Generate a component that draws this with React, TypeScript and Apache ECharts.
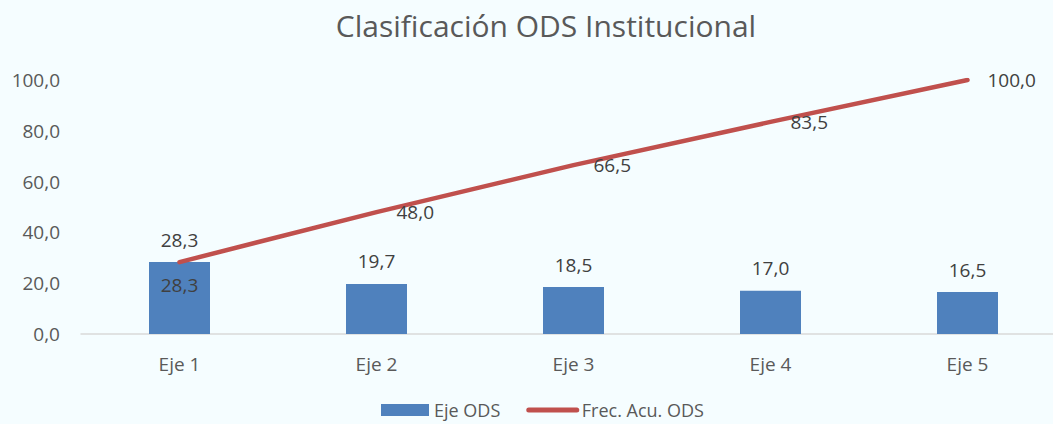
import React, { useEffect, useRef } from "react";
import * as echarts from "echarts";

const categories = ["Eje 1", "Eje 2", "Eje 3", "Eje 4", "Eje 5"];
const barValues = [28.3, 19.7, 18.5, 17.0, 16.5];
const cumValues = [28.3, 48.0, 66.5, 83.5, 100.0];
const titleText = "Clasificación ODS Institucional";
const barName = "Eje ODS";
const lineName = "Frec. Acu. ODS";

const fmt = (v: number) => v.toFixed(1).replace(".", ",");

export default function App() {
  const ref = useRef<HTMLDivElement>(null);
  useEffect(() => {
    const chart = echarts.init(ref.current!, undefined, { renderer: "svg" });
    const font = "'Open Sans', 'Noto Sans', sans-serif";
    chart.setOption({
      animation: false,
      backgroundColor: "#f5fdff",
      textStyle: { fontFamily: font },
      title: {
        text: titleText,
        left: 541,
        textAlign: "center",
        top: 5,
        textStyle: { fontSize: 30, fontWeight: "normal", color: "#595959", fontFamily: font },
      },
      legend: {
        bottom: 0,
        left: 376,
        itemGap: 26,
        itemWidth: 48,
        itemHeight: 12,
        textStyle: { fontSize: 18, color: "#595959", fontFamily: font },
        data: [
          { name: barName, icon: "rect" },
          {
            name: lineName,
            itemStyle: { opacity: 0 },
            lineStyle: { width: 5, cap: "round", color: "#c0504d" },
          },
        ],
      },
      grid: { left: 81, right: 14, top: 80, height: 254, containLabel: false },
      xAxis: {
        type: "category",
        data: categories,
        axisLine: { lineStyle: { color: "#d9d9d9", width: 1.5 } },
        axisTick: { show: false },
        axisLabel: { fontSize: 19, color: "#595959", margin: 20, fontFamily: font },
      },
      yAxis: {
        type: "value",
        min: 0,
        max: 100,
        interval: 20,
        splitLine: { show: false },
        axisLine: { show: false },
        axisTick: { show: false },
        axisLabel: {
          fontSize: 19,
          color: "#595959",
          margin: 21,
          fontFamily: font,
          formatter: (v: number) => fmt(v),
        },
      },
      series: [
        {
          name: barName,
          type: "bar",
          data: barValues,
          barWidth: 61,
          itemStyle: { color: "#4f81bd" },
          label: {
            show: true,
            position: "top",
            distance: 13,
            fontSize: 19,
            color: "#404040",
            fontFamily: font,
            formatter: (p: any) => fmt(p.value),
          },
        },
        {
          name: lineName,
          type: "line",
          data: cumValues.map((v, i) => ({
            value: v,
            label:
              i === 0
                ? { position: "bottom", distance: 12 }
                : { position: "right", distance: 19 },
          })),
          symbol: "circle",
          symbolSize: 2,
          showSymbol: true,
          lineStyle: { color: "#c0504d", width: 4.5, cap: "round" },
          itemStyle: { color: "#c0504d" },
          label: {
            show: true,
            fontSize: 19,
            color: "#404040",
            fontFamily: font,
            formatter: (p: any) => fmt(p.value),
          },
        },
      ],
    });
    return () => chart.dispose();
  }, []);
  return (
    <div style={{ position: "fixed", left: 0, top: 0, width: 1053, height: 424, overflow: "hidden" }}>
      <div ref={ref} style={{ width: 1080, height: 424 }} />
    </div>
  );
}
